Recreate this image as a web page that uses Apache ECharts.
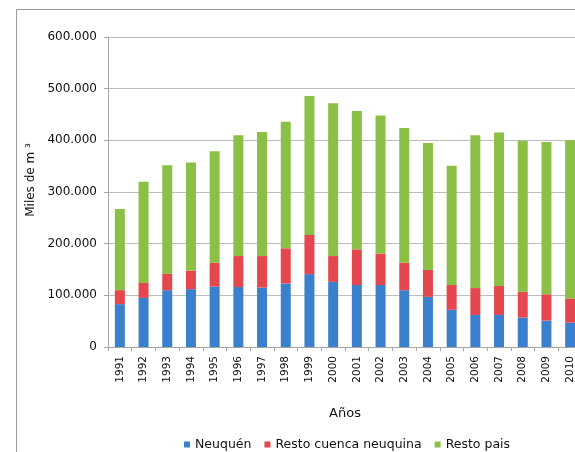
<!DOCTYPE html>
<html>
<head>
<meta charset="utf-8">
<script src="https://cdn.jsdelivr.net/npm/echarts@6/dist/echarts.min.js"></script>
<style>
html, body { margin: 0; padding: 0; background: #fff; overflow: hidden; }
#chart { width: 640px; height: 452px; }
</style>
</head>
<body>
<div id="chart"></div>
<script>
const years = ['1991','1992','1993','1994','1995','1996','1997','1998','1999','2000','2001','2002','2003','2004','2005','2006','2007','2008','2009','2010'];
const neuquen = [83000, 95000, 110000, 112000, 117000, 116000, 115000, 123000, 141000, 126000, 120000, 120000, 110000, 97000, 72000, 62000, 62000, 57000, 51000, 47000];
const restoCuenca = [27000, 29000, 32000, 36000, 46000, 60000, 61000, 68000, 76000, 50000, 69000, 61000, 53000, 52000, 48000, 52000, 56000, 50000, 51000, 47000];
const restoPais = [157000, 196000, 210000, 209000, 216000, 234000, 240000, 245000, 269000, 296000, 268000, 267000, 261000, 246000, 231000, 296000, 297000, 292000, 295000, 306000];
const seriesNames = ['Neuquén', 'Resto cuenca neuquina', 'Resto pais'];
const colors = ['#3a80cc', '#e5474f', '#8cbf45'];

const font = 'DejaVu Sans';
const chart = echarts.init(document.getElementById('chart'), null, { renderer: 'canvas' });

function fmt(v) {
  return String(v).replace(/\B(?=(\d{3})+(?!\d))/g, '.');
}

const mk = (name, data, i) => ({
  name: name,
  type: 'bar',
  stack: 'total',
  data: data,
  barWidth: 10,
  itemStyle: { color: colors[i] },
  emphasis: { disabled: true }
});

const txt = '#111111';

chart.setOption({
  animation: false,
  backgroundColor: '#ffffff',
  textStyle: { fontFamily: font },
  graphic: [{
    type: 'rect',
    shape: { x: 16.5, y: 9.5, width: 700, height: 600 },
    style: { fill: 'none', stroke: '#9a9a9a', lineWidth: 1 },
    z: -1
  }],
  grid: { left: 108, right: 58, top: 37, bottom: 105, containLabel: false },
  legend: {
    data: seriesNames,
    left: 184,
    top: 438,
    padding: 0,
    itemWidth: 6,
    itemHeight: 6,
    itemGap: 13,
    icon: 'rect',
    textStyle: { fontFamily: font, fontSize: 12.5, color: txt }
  },
  xAxis: {
    type: 'category',
    data: years,
    name: 'Años',
    nameLocation: 'middle',
    nameGap: 60,
    nameTextStyle: { fontFamily: font, fontSize: 13, color: txt },
    axisLine: { lineStyle: { color: '#a6a6a6' } },
    axisTick: { show: true, length: 4, lineStyle: { color: '#a6a6a6' } },
    axisLabel: { rotate: 90, margin: 9, fontFamily: font, fontSize: 10.5, color: txt }
  },
  yAxis: {
    type: 'value',
    min: 0,
    max: 600000,
    interval: 100000,
    name: 'Miles de m ³',
    nameLocation: 'middle',
    nameGap: 70,
    nameTextStyle: { fontFamily: font, fontSize: 12, color: txt, padding: [0, 0, 0, 24] },
    axisLine: { show: true, lineStyle: { color: '#a6a6a6' } },
    axisTick: { show: true, length: 4, lineStyle: { color: '#a6a6a6' } },
    splitLine: { lineStyle: { color: '#bdbdbd' } },
    axisLabel: { margin: 11, fontFamily: font, fontSize: 12, color: txt, formatter: fmt }
  },
  series: [
    mk(seriesNames[0], neuquen, 0),
    mk(seriesNames[1], restoCuenca, 1),
    mk(seriesNames[2], restoPais, 2)
  ]
});
</script>
</body>
</html>
